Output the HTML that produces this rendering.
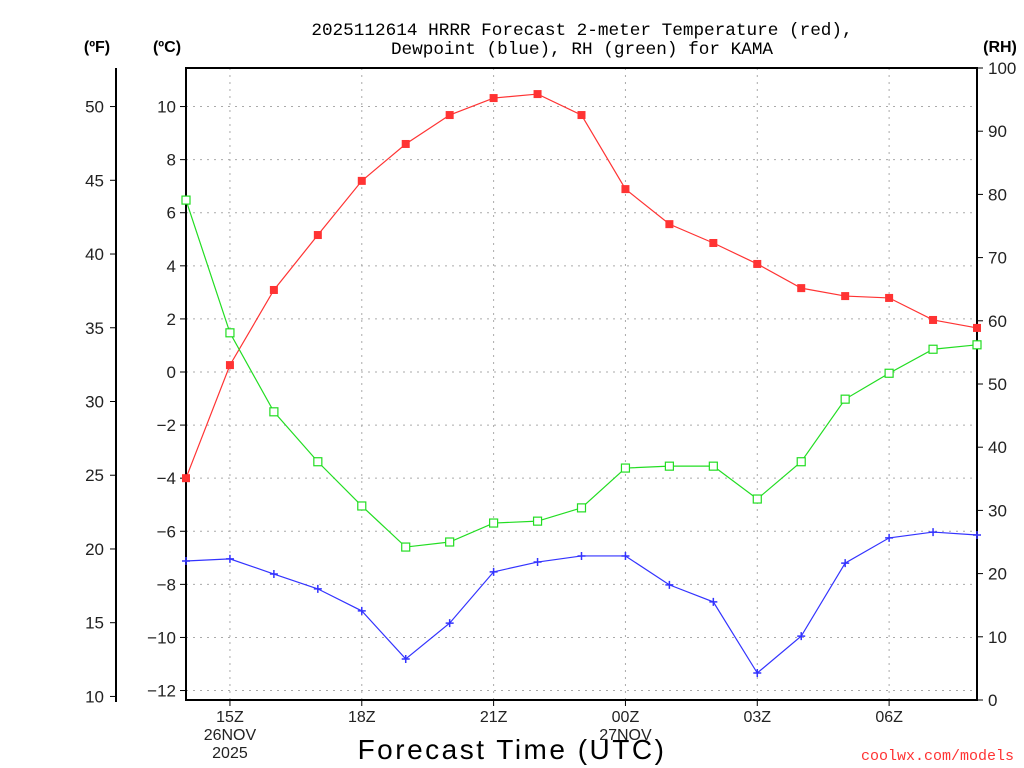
<!DOCTYPE html>
<html><head><meta charset="utf-8"><style>
body{margin:0;background:#fff;}
svg{display:block;font-family:"Liberation Sans",sans-serif;}
</style></head><body>
<svg id="chart" width="1024" height="768" viewBox="0 0 1024 768" xmlns="http://www.w3.org/2000/svg">
<text x="582" y="35" text-anchor="middle" font-family="Liberation Mono, monospace" font-size="17.7" fill="#000">2025112614 HRRR Forecast 2-meter Temperature (red),</text>
<text x="582" y="54" text-anchor="middle" font-family="Liberation Mono, monospace" font-size="17.7" fill="#000">Dewpoint (blue), RH (green) for KAMA</text>
<text x="97" y="52" text-anchor="middle" font-size="16" font-weight="bold">(ºF)</text>
<text x="167" y="52" text-anchor="middle" font-size="16" font-weight="bold">(ºC)</text>
<text x="1000" y="52" text-anchor="middle" font-size="16" font-weight="bold">(RH)</text>
<text x="512" y="759" text-anchor="middle" font-size="28" letter-spacing="2.5">Forecast Time (UTC)</text>
<text x="1014" y="760" text-anchor="end" font-family="Liberation Mono, monospace" font-size="15" fill="#ff3333">coolwx.com/models</text>
<g id="grid"></g><g id="axes"></g><g id="series"></g>
</svg>
<script>
const hours = [0,1,2,3,4,5,6,7,8,9,10,11,12,13,14,15,16,17,18];
const tempC = [-4.0,0.26,3.09,5.16,7.2,8.59,9.68,10.32,10.47,9.68,6.89,5.57,4.86,4.07,3.16,2.86,2.79,1.96,1.66];
const dewC = [-7.12,-7.04,-7.61,-8.17,-9.0,-10.81,-9.46,-7.53,-7.16,-6.93,-6.93,-8.02,-8.66,-11.34,-9.95,-7.2,-6.25,-6.03,-6.14];
const rh = [79.1,58.1,45.6,37.7,30.7,24.2,25.0,28.0,28.3,30.4,36.7,37.0,37.0,31.8,37.7,47.6,51.7,55.5,56.2];
const cTicks = [-12,-10,-8,-6,-4,-2,0,2,4,6,8,10];
const fTicks = [10,15,20,25,30,35,40,45,50];
const rhTicks = [0,10,20,30,40,50,60,70,80,90,100];
const xTickHours = [1,4,7,10,13,16];
const xTickLabels = [["15Z","26NOV","2025"],["18Z"],["21Z"],["00Z","27NOV"],["03Z"],["06Z"]];

const L=186,R=977,T=68,B=700;
const x = h => L + h*(R-L)/18;
const yC = c => 372 - c*26.545;
const yF = f => yC((f-32)*5/9);
const yR = r => B - r*(B-T)/100;
const NS="http://www.w3.org/2000/svg";
function mk(tag, attrs, parent){const e=document.createElementNS(NS,tag);for(const k in attrs)e.setAttribute(k,attrs[k]);document.getElementById(parent).appendChild(e);return e;}
cTicks.forEach(c=>{const e=mk('line',{x1:L,x2:R,y1:yC(c),y2:yC(c),stroke:'#aaa','stroke-dasharray':'2,5'},'grid');

});
xTickHours.forEach(h=>{const e=mk('line',{x1:x(h),x2:x(h),y1:T,y2:B,stroke:'#aaa','stroke-dasharray':'2,5'},'grid');

});
const fr=mk('rect',{x:L,y:T,width:R-L,height:B-T,fill:'none',stroke:'#000','stroke-width':2},'axes');


const fl=mk('line',{x1:116,x2:116,y1:T,y2:B+2,stroke:'#000','stroke-width':2},'axes');


cTicks.forEach(c=>{mk('line',{x1:L-6,x2:L,y1:yC(c),y2:yC(c),stroke:'#000'},'axes');
const t=mk('text',{x:L-10,y:yC(c)+6,'text-anchor':'end','font-size':17,fill:'#222'},'axes');t.textContent=String(c).replace('-','\u2212');

});
fTicks.forEach(f=>{mk('line',{x1:110,x2:116,y1:yF(f),y2:yF(f),stroke:'#000'},'axes');
const t=mk('text',{x:104,y:yF(f)+6,'text-anchor':'end','font-size':17,fill:'#222'},'axes');t.textContent=f;

});
rhTicks.forEach(r=>{mk('line',{x1:R,x2:R+6,y1:yR(r),y2:yR(r),stroke:'#000'},'axes');
const t=mk('text',{x:R+11,y:yR(r)+6,'font-size':17,fill:'#222'},'axes');t.textContent=r;

});
xTickHours.forEach((h,i)=>{mk('line',{x1:x(h),x2:x(h),y1:B,y2:B+6,stroke:'#000'},'axes');
xTickLabels[i].forEach((s,j)=>{const t=mk('text',{x:x(h),y:B+22+j*18,'text-anchor':'middle','font-size':16,fill:'#222'},'axes');t.textContent=s;

});});
function line(vals,yf,color,name){const p=mk('polyline',{points:vals.map((v,i)=>x(hours[i])+','+yf(v)).join(' '),fill:'none',stroke:color,'stroke-width':1.2},'series');

}
line(tempC,yC,'#ff3333','temperature-line');
line(dewC,yC,'#3333ff','dewpoint-line');
line(rh,yR,'#22dd22','rh-line');
tempC.forEach((v,i)=>{const m=mk('rect',{x:x(hours[i])-4,y:yC(v)-4,width:8,height:8,fill:'#ff3333'},'series');

});
rh.forEach((v,i)=>{const m=mk('rect',{x:x(hours[i])-4,y:yR(v)-4,width:8,height:8,fill:'#fff',stroke:'#22dd22','stroke-width':1.2},'series');

});
dewC.forEach((v,i)=>{const m=mk('path',{d:`M${x(hours[i])-4},${yC(v)}h8M${x(hours[i])},${yC(v)-4}v8`,stroke:'#3333ff','stroke-width':1.5},'series');

});
</script>
</body></html>
